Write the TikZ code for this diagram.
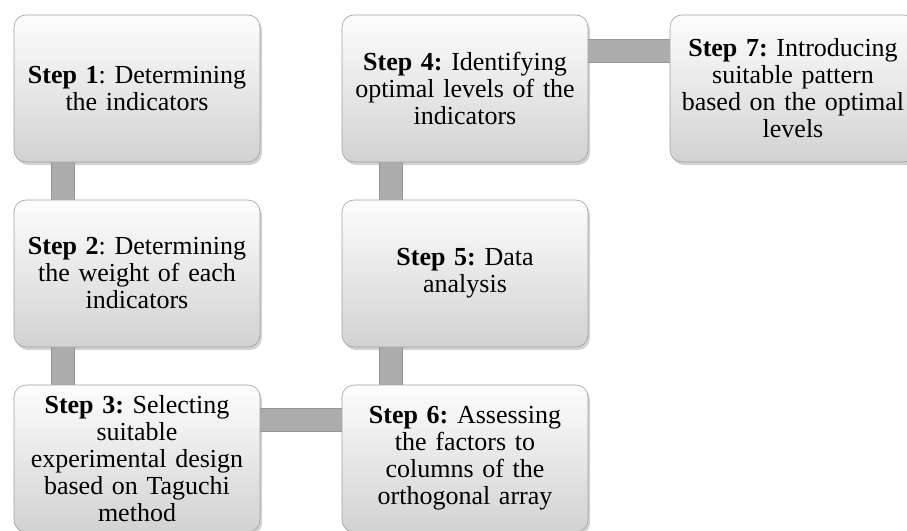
\documentclass[tikz,border=0pt]{standalone}
\usepackage{fontspec}
\setmainfont{Liberation Serif}
\frenchspacing
\usetikzlibrary{shadows}
\definecolor{boxtop}{RGB}{253,253,253}
\definecolor{boxbottom}{RGB}{210,210,210}
\definecolor{boxrim}{RGB}{160,160,160}
\definecolor{linkgray}{RGB}{172,172,172}
\definecolor{linkedge}{RGB}{150,150,150}

\begin{document}
\begin{tikzpicture}[x=1pt, y=-1pt,
    every node/.style={align=center, font=\fontsize{26}{27}\selectfont},
    stepbox/.style={rounded corners=12pt, minimum width=246pt, minimum height=147pt,
      text width=236pt, inner sep=0pt, top color=boxtop, bottom color=boxbottom,
      draw=boxrim, line width=0.6pt,
      drop shadow={shadow xshift=2pt, shadow yshift=-3pt, opacity=0.35}},
    link/.style={draw=linkedge, double=linkgray, double distance=22pt, line width=1pt}]
    \useasboundingbox (0,0) rectangle (907,530);

    \node[stepbox] (s1) at (137, 88.5)  {\textbf{Step 1}: Determining\\the indicators};
    \node[stepbox] (s2) at (137, 273.5) {\textbf{Step 2}: Determining\\the weight of each\\indicators};
    \node[stepbox] (s3) at (137, 458.5) {\textbf{Step 3:} Selecting\\suitable\\experimental design\\based on Taguchi\\method};
    \node[stepbox] (s4) at (465, 88.5)  {\textbf{Step 4:} Identifying\\optimal levels of the\\indicators};
    \node[stepbox] (s5) at (465, 273.5) {\textbf{Step 5:} Data\\analysis};
    \node[stepbox] (s6) at (465, 458.5) {\textbf{Step 6:} Assessing\\the factors to\\columns of the\\orthogonal array};
    \node[stepbox] (s7) at (793, 88.5)  {\textbf{Step 7:} Introducing\\suitable pattern\\based on the optimal\\levels};

    \draw[link] ([xshift=49pt]s1.south west) -- ([xshift=49pt]s2.north west);
    \draw[link] ([xshift=49pt]s2.south west) -- ([xshift=49pt]s3.north west);
    \draw[link] ([yshift=-35pt]s3.north east) -- ([yshift=-35pt]s6.north west);
    \draw[link] ([xshift=49pt]s6.north west) -- ([xshift=49pt]s5.south west);
    \draw[link] ([xshift=49pt]s5.north west) -- ([xshift=49pt]s4.south west);
    \draw[link] ([yshift=-36pt]s4.north east) -- ([yshift=-36pt]s7.north west);
  \end{tikzpicture}
\end{document}
